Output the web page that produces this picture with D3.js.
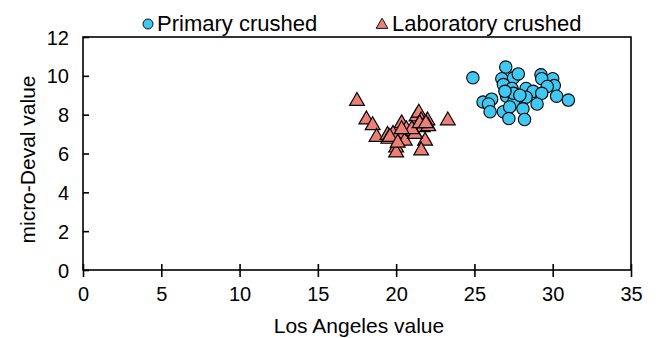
<!DOCTYPE html>
<html><head><meta charset="utf-8">
<script src="https://cdn.jsdelivr.net/npm/d3@7"></script>
<style>body{margin:0;background:#fff}svg{display:block}text{font-family:"Liberation Sans",Arial,sans-serif}</style>
</head><body>
<svg id="c" width="659" height="338"></svg>
<script>
const xTicks=[0,5,10,15,20,25,30,35];
const yTicks=[0,2,4,6,8,10,12];
const seriesNames=["Primary crushed","Laboratory crushed"];
const primaryLA=[24.9,27.0,26.75,27.5,27.8,26.85,27.4,29.25,30.0,29.3,30.1,29.65,28.3,28.75,29.3,30.25,31.0,27.05,27.8,28.3,27.5,25.55,26.1,25.9,26.0,26.85,27.25,28.1,29.0,27.2,28.2,27.5,27.9,26.95];
const primaryMD=[9.9,10.45,9.85,9.9,10.1,9.55,9.35,10.05,9.85,9.85,9.5,9.45,9.35,9.2,9.1,8.95,8.75,8.95,8.85,8.9,8.65,8.65,8.8,8.55,8.15,8.15,8.4,8.3,8.55,7.8,7.75,9.1,9.0,9.2];
const labLA=[17.5,18.1,18.5,18.75,19.45,19.5,20.0,20.0,20.35,20.35,20.55,19.8,20.65,21.1,21.3,21.45,21.6,21.7,21.85,21.6,22.0,22.05,21.2,23.3,21.0,21.5,20.35,19.6,21.9,20.1];
const labMD=[8.75,7.8,7.5,6.9,7.0,6.8,6.35,6.1,7.6,7.05,6.7,7.05,7.3,7.2,7.95,8.15,7.75,7.4,6.7,6.2,7.75,7.45,7.05,7.75,7.3,7.6,7.3,6.9,7.6,6.6];

const svg=d3.select("#c");
const L=83,R=631,T=37,B=270;
const x=d3.scaleLinear().domain([0,35]).range([L,R]);
const y=d3.scaleLinear().domain([0,12]).range([B,T]);

svg.append("rect").attr("x",L).attr("y",T).attr("width",R-L).attr("height",B-T)
  .attr("fill","none").attr("stroke","#000").attr("stroke-width",1.6);

const xa=svg.append("g").attr("transform",`translate(0,${B})`)
  .call(d3.axisBottom(x).tickValues(xTicks).tickSize(7).tickSizeOuter(0));
xa.select(".domain").remove();
xa.selectAll(".tick line").attr("y1",-6).attr("stroke-width",1.6);
xa.selectAll("text").attr("font-size",20).attr("fill","#000").attr("y",13).attr("dy","0.9em");

const ya=svg.append("g").attr("transform",`translate(${L},0)`)
  .call(d3.axisLeft(y).tickValues(yTicks).tickSize(7).tickSizeOuter(0));
ya.select(".domain").remove();
ya.selectAll(".tick line").attr("x2",6).attr("stroke-width",1.6);
ya.selectAll("text").attr("font-size",20).attr("fill","#000").attr("x",-14).attr("dy","0.35em");

svg.append("text").attr("x",(L+R)/2+2).attr("y",333).attr("text-anchor","middle").attr("font-size",21).text("Los Angeles value");
svg.append("text").attr("transform",`translate(35,${(T+B)/2+6}) rotate(-90)`).attr("text-anchor","middle").attr("font-size",21).text("micro-Deval value");

const tri=d3.symbol().type(d3.symbolTriangle).size(95);
const labPts=labLA.map((v,i)=>[v,labMD[i]]);
svg.append("g").selectAll("path").data(labPts).join("path")
  .attr("d",tri).attr("transform",d=>`translate(${x(d[0])},${y(d[1])+1})`)
  .attr("fill","#ec8079").attr("stroke","#000").attr("stroke-width",1.2);

const priPts=primaryLA.map((v,i)=>[v,primaryMD[i]]);
svg.append("g").selectAll("circle").data(priPts).join("circle")
  .attr("cx",d=>x(d[0])).attr("cy",d=>y(d[1])).attr("r",6.2)
  .attr("fill","#3ec8f2").attr("stroke","#000").attr("stroke-width",1.1);

const lg=svg.append("g");
lg.append("circle").attr("cx",148).attr("cy",24).attr("r",5).attr("fill","#3ec8f2").attr("stroke","#000").attr("stroke-width",0.9);
lg.append("text").attr("x",157).attr("y",31).attr("font-size",22).text(seriesNames[0]);
lg.append("path").attr("d",d3.symbol().type(d3.symbolTriangle).size(60)).attr("transform","translate(382,25)")
  .attr("fill","#ec8079").attr("stroke","#000").attr("stroke-width",0.9);
lg.append("text").attr("x",392).attr("y",31).attr("font-size",22).text(seriesNames[1]);
</script>
</body></html>
